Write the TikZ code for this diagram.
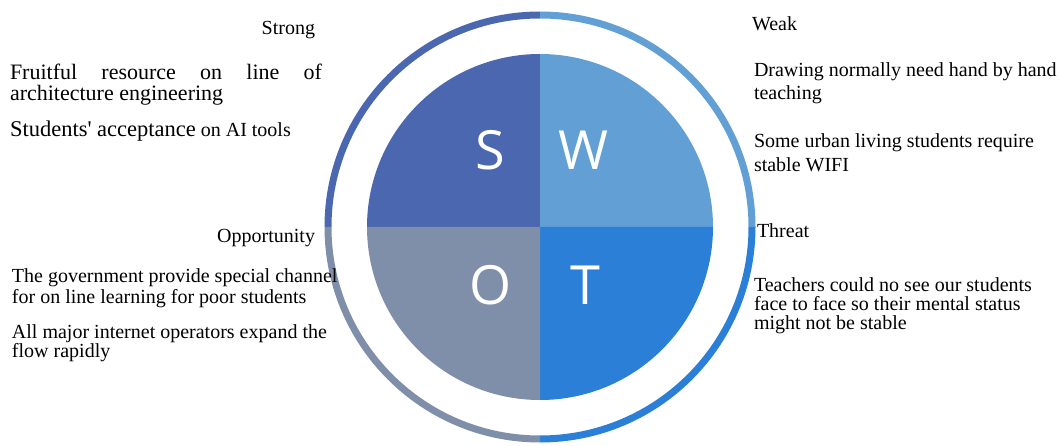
\documentclass[tikz,border=0pt]{standalone}
\usepackage{fontspec}
\setmainfont{Liberation Serif}
\newfontfamily\letterfont{Open Sans}
\definecolor{cS}{HTML}{4A67AF}
\definecolor{cW}{HTML}{619FD4}
\definecolor{cO}{HTML}{808FA9}
\definecolor{cT}{HTML}{2B7FD6}
\tikzset{
  lbl/.style={inner sep=0pt, outer sep=0pt, text=black, font=\fontsize{20}{22}\selectfont},
  para/.style={lbl, align=left},
  letter/.style={inner sep=0pt, text=white, font=\letterfont\fontsize{54}{54}\selectfont},
  ring/.style={line width=7pt}
}
\begin{document}
\begin{tikzpicture}[x=1pt,y=1pt]
\useasboundingbox (0,0) rectangle (1060,-446);
\coordinate (c) at (540,-227);
% pie quadrants
\fill[cS] (c) -- ++(180:173) arc[start angle=180,end angle=90,radius=173] -- cycle;
\fill[cW] (c) -- ++(90:173) arc[start angle=90,end angle=0,radius=173] -- cycle;
\fill[cT] (c) -- ++(0:173) arc[start angle=0,end angle=-90,radius=173] -- cycle;
\fill[cO] (c) -- ++(-90:173) arc[start angle=-90,end angle=-180,radius=173] -- cycle;
% outer ring
\draw[ring, cS] ([shift={(180:212)}]c) arc[start angle=180,end angle=90,radius=212];
\draw[ring, cW] ([shift={(90:212)}]c) arc[start angle=90,end angle=0,radius=212];
\draw[ring, cT] ([shift={(0:212)}]c) arc[start angle=0,end angle=-90,radius=212];
\draw[ring, cO] ([shift={(-90:212)}]c) arc[start angle=-90,end angle=-180,radius=212];
% letters
\node[letter] (ls) at (490,-150) {S};
\node[letter] (lw) at (583,-150) {W};
\node[letter] (lo) at (491,-285) {O};
\node[letter] (lt) at (585,-285) {T};
% Strong (multi-line nodes are anchored at the baseline of their last line)
\node[lbl, anchor=base east] (strong) at (315,-35) {Strong};
\node[para, anchor=base west, font=\fontsize{22}{21}\selectfont] (s1) at (10,-101)
  {\makebox[312pt][s]{Fruitful resource on line of}\\architecture engineering};
\node[lbl, anchor=base west] (s2) at (10,-137)
  {{\fontsize{22.5}{24}\selectfont Students\textquotesingle\ acceptance} on AI tools};
% Weak
\node[lbl, anchor=base west] (weak) at (752,-31) {Weak};
\node[para, anchor=base west, font=\fontsize{20}{23}\selectfont] (w1) at (754,-100)
  {Drawing normally need hand by hand\\teaching};
\node[para, anchor=base west, font=\fontsize{20}{24}\selectfont] (w2) at (754,-172)
  {Some urban living students require\\stable WIFI};
% Opportunity
\node[lbl, anchor=base east] (opp) at (315,-243) {Opportunity};
\node[para, anchor=base west, font=\fontsize{20}{21}\selectfont] (o1) at (12,-304)
  {The government provide special channel\\for on line learning for poor students};
\node[para, anchor=base west, font=\fontsize{20}{18.5}\selectfont] (o2) at (12,-357)
  {All major internet operators expand the\\flow rapidly};
% Threat
\node[lbl, anchor=base west] (threat) at (757,-238) {Threat};
\node[para, anchor=base west, font=\fontsize{20}{18.5}\selectfont] (t1) at (754,-329)
  {Teachers could no see our students\\face to face so their mental status\\might not be stable};
\end{tikzpicture}
\end{document}
